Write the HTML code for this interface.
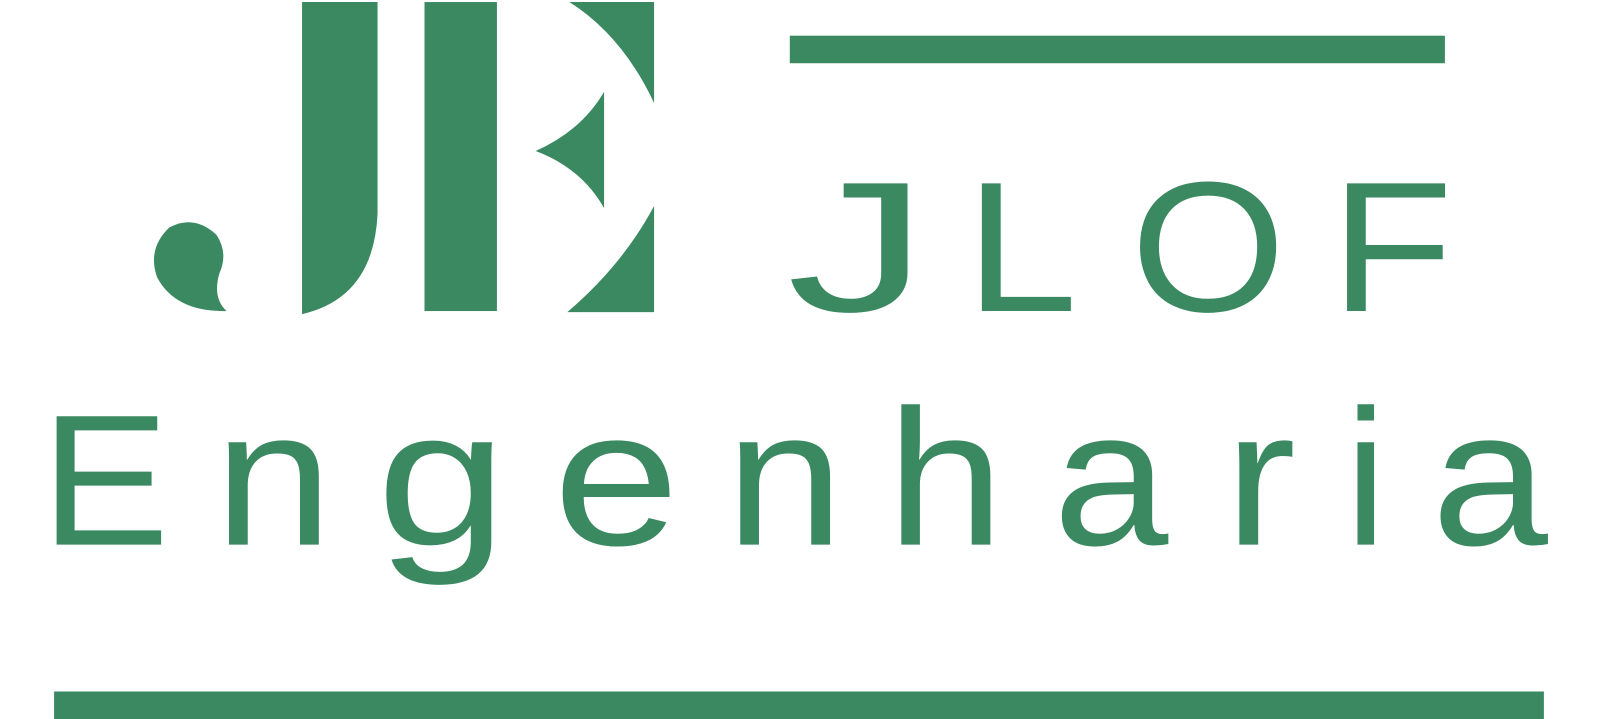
<!DOCTYPE html>
<html><head><meta charset="utf-8"><style>
html,body{margin:0;padding:0;background:#fff;width:1600px;height:719px;overflow:hidden}
svg{display:block}
text{font-family:"Liberation Sans",sans-serif}
</style></head><body>
<svg width="1600" height="719" viewBox="0 0 1568 705" preserveAspectRatio="none">
<g fill="#3b8961">
  <path d="M222,305 Q172,306 154,272 Q144,244 166,223 Q190,210 212,230 Q224,248 215,268 Q208,292 222,305 Z"/>
  <path d="M296,2 H370 V210 Q366,292 296,308 Z"/>
  <rect x="416" y="2" width="71" height="303"/>
  <path d="M558,2 H641 V101 Q610,35 558,2 Z"/>
  <path d="M592,90 V204 Q570,165 525,148 Q570,128 592,90 Z"/>
  <path d="M641,202 V306 H556 Q610,260 641,202 Z"/>
  <rect x="774" y="35" width="642" height="27"/>
  <rect x="53" y="678" width="1460" height="27"/>
  <g font-size="182">
    <text x="771" y="305" textLength="139" lengthAdjust="spacingAndGlyphs">J</text>
    <text x="946" y="305" textLength="110" lengthAdjust="spacingAndGlyphs">L</text>
    <text x="1108" y="305" textLength="152" lengthAdjust="spacingAndGlyphs">O</text>
    <text x="1304" y="305" textLength="120" lengthAdjust="spacingAndGlyphs">F</text>
  </g>
  <g font-size="190">
    <text x="40" y="534" font-size="183" textLength="126" lengthAdjust="spacingAndGlyphs">E</text>
    <text x="210" y="534" textLength="116" lengthAdjust="spacingAndGlyphs">n</text>
    <text x="369" y="534" textLength="128" lengthAdjust="spacingAndGlyphs">g</text>
    <text x="542" y="534" textLength="124" lengthAdjust="spacingAndGlyphs">e</text>
    <text x="711" y="534" textLength="116" lengthAdjust="spacingAndGlyphs">n</text>
    <text x="869" y="534" textLength="115" lengthAdjust="spacingAndGlyphs">h</text>
    <text x="1032" y="534" textLength="113" lengthAdjust="spacingAndGlyphs">a</text>
    <text x="1200" y="534" textLength="70" lengthAdjust="spacingAndGlyphs">r</text>
    <text x="1318" y="534" textLength="41" lengthAdjust="spacingAndGlyphs">i</text>
    <text x="1403" y="534" textLength="114" lengthAdjust="spacingAndGlyphs">a</text>
  </g>
</g>
</svg>
</body></html>
